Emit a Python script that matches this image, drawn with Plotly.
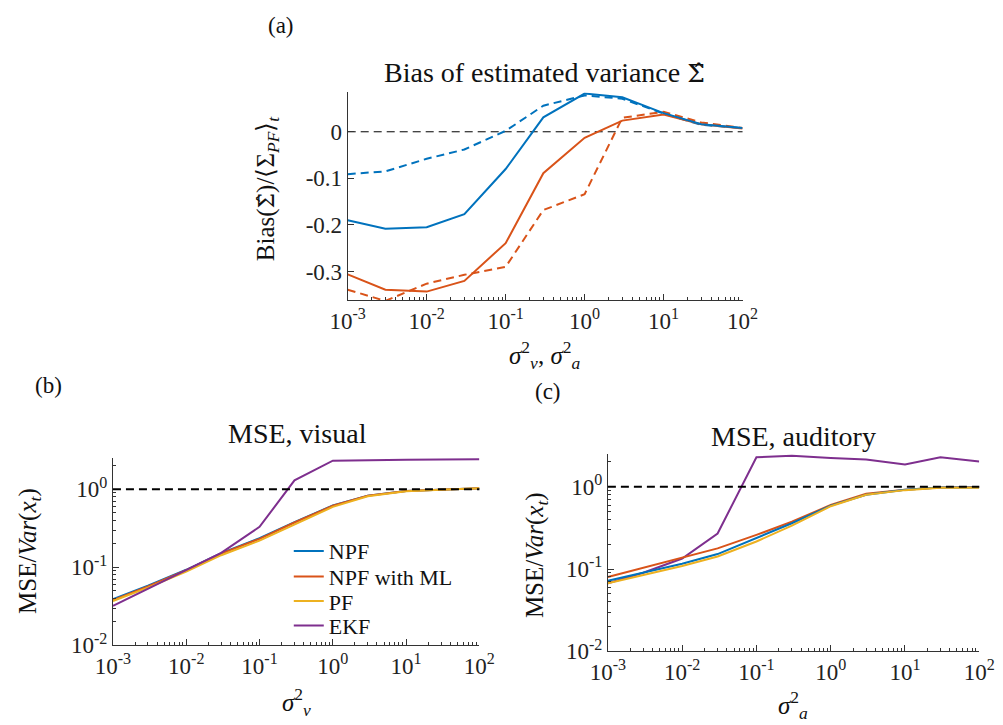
import plotly.graph_objects as go

# ---------------- data ----------------
sigma = [1e-3, 3e-3, 1e-2, 3e-2, 1e-1, 3e-1, 1e0, 3e0, 1e1, 3e1, 1e2]

# (a) bias of estimated variance
bias_vis_solid = [-0.190, -0.208, -0.205, -0.177, -0.080, 0.031, 0.082, 0.074, 0.040, 0.016, 0.008]
bias_vis_dash = [-0.091, -0.085, -0.058, -0.038, 0.002, 0.056, 0.078, 0.071, 0.039, 0.015, 0.008]
bias_aud_solid = [-0.306, -0.339, -0.343, -0.320, -0.239, -0.089, -0.013, 0.024, 0.037, 0.016, 0.007]
bias_aud_dash = [-0.339, -0.363, -0.326, -0.307, -0.290, -0.168, -0.134, 0.030, 0.043, 0.020, 0.008]

# (b) MSE visual
vis_npf = [0.039, 0.058, 0.093, 0.152, 0.236, 0.380, 0.620, 0.830, 0.950, 0.990, 1.030]
vis_npfml = [0.038, 0.057, 0.092, 0.150, 0.232, 0.375, 0.615, 0.825, 0.950, 0.990, 1.030]
vis_pf = [0.037, 0.055, 0.088, 0.143, 0.220, 0.355, 0.595, 0.815, 0.945, 0.990, 1.030]
vis_ekf = [0.032, 0.053, 0.092, 0.153, 0.330, 1.300, 2.330, 2.380, 2.390, 2.400, 2.420]

# (c) MSE auditory
aud_npf = [0.072, 0.090, 0.116, 0.152, 0.240, 0.360, 0.590, 0.800, 0.920, 0.980, 0.980]
aud_npfml = [0.080, 0.104, 0.137, 0.178, 0.260, 0.375, 0.600, 0.820, 0.920, 0.980, 0.990]
aud_pf = [0.067, 0.085, 0.109, 0.142, 0.216, 0.336, 0.580, 0.800, 0.910, 0.970, 0.970]
aud_ekf = [0.067, 0.090, 0.134, 0.270, 2.280, 2.390, 2.240, 2.140, 1.870, 2.280, 2.030]

x_tickvals = [1e-3, 1e-2, 1e-1, 1e0, 1e1, 1e2]
x_ticktext = ["10<sup>-3</sup>", "10<sup>-2</sup>", "10<sup>-1</sup>", "10<sup>0</sup>", "10<sup>1</sup>", "10<sup>2</sup>"]
y_log_tickvals = [1e-2, 1e-1, 1e0]
y_log_ticktext = ["10<sup>-2</sup>", "10<sup>-1</sup>", "10<sup>0</sup>"]
y_lin_tickvals = [-0.3, -0.2, -0.1, 0]
y_lin_ticktext = ["-0.3", "-0.2", "-0.1", "0"]

legend_names = ["NPF", "NPF with ML", "PF", "EKF"]

# ---------------- style ----------------
BLUE = "#0072BD"
ORANGE = "#D95319"
YELLOW = "#EDB120"
PURPLE = "#7E2F8E"
FONT = "Liberation Serif"
AX = "#333333"
LW = 2
TXT = "#111111"

minor_x = [m * 10.0 ** e for e in range(-3, 2) for m in range(2, 10)]
minor_y = [m * 10.0 ** e for e in range(-2, 1) for m in range(2, 10) if m * 10.0 ** e < 2.6]

fig = go.Figure()

def add(x, y, color, xa, ya, dash="solid", name=None, legend=None):
    kw = {}
    if legend is not None:
        kw["legend"] = legend
    fig.add_trace(go.Scatter(
        x=x, y=y, mode="lines", xaxis=xa, yaxis=ya,
        line=dict(color=color, width=LW, dash=dash),
        name=name, showlegend=legend is not None, hoverinfo="skip", **kw))

DASH = "8px,5px"
# (a)
add(sigma, bias_aud_dash, ORANGE, "x", "y", DASH)
add(sigma, bias_vis_dash, BLUE, "x", "y", DASH)
add(sigma, bias_aud_solid, ORANGE, "x", "y")
add(sigma, bias_vis_solid, BLUE, "x", "y")

# (b)
add(sigma, vis_npf, BLUE, "x2", "y2", name=legend_names[0], legend="legend")
add(sigma, vis_npfml, ORANGE, "x2", "y2", name=legend_names[1], legend="legend2")
add(sigma, vis_pf, YELLOW, "x2", "y2", name=legend_names[2], legend="legend3")
add(sigma, vis_ekf, PURPLE, "x2", "y2", name=legend_names[3], legend="legend4")

# (c)
add(sigma, aud_ekf, PURPLE, "x3", "y3")
add(sigma, aud_npfml, ORANGE, "x3", "y3")
add(sigma, aud_npf, BLUE, "x3", "y3")
add(sigma, aud_pf, YELLOW, "x3", "y3")

# reference lines
fig.add_shape(type="line", xref="x domain", yref="y", x0=0, x1=1, y0=0, y1=0,
              line=dict(color="black", width=1, dash="8px,5px"), layer="below")
fig.add_shape(type="line", xref="x2 domain", yref="y2", x0=0, x1=1, y0=1, y1=1,
              line=dict(color="black", width=2, dash="8px,5px"), layer="above")
fig.add_shape(type="line", xref="x3 domain", yref="y3", x0=0, x1=1, y0=1, y1=1,
              line=dict(color="black", width=2, dash="8px,5px"), layer="above")

W, H = 1003, 725
def dx(px):
    return px / W
def dy(py):
    return 1 - py / H

tickfont = dict(family=FONT, size=23, color="#222222")

def xaxis(dom, anchor):
    return dict(type="log", domain=dom, anchor=anchor, range=[-3, 2],
                tickvals=x_tickvals, ticktext=x_ticktext, ticks="inside", ticklen=6,
                tickcolor=AX, showline=True, linecolor=AX, linewidth=1,
                showgrid=False, zeroline=False, tickfont=tickfont,
                minor=dict(tickvals=minor_x, ticks="inside", ticklen=3, tickcolor=AX, showgrid=False))

def ylog(dom, anchor):
    return dict(type="log", domain=dom, anchor=anchor, range=[-2, 0.4],
                tickvals=y_log_tickvals, ticktext=y_log_ticktext, ticks="inside", ticklen=6,
                tickcolor=AX, showline=True, linecolor=AX, linewidth=1,
                showgrid=False, zeroline=False, tickfont=tickfont,
                minor=dict(tickvals=minor_y, ticks="inside", ticklen=3, tickcolor=AX, showgrid=False))

def leg(ypx):
    return dict(x=dx(272), y=dy(ypx), xanchor="left", yanchor="middle",
                bgcolor="rgba(0,0,0,0)", borderwidth=0,
                font=dict(family=FONT, size=22, color=TXT), itemwidth=30)

fig.update_layout(
    width=W, height=H, margin=dict(l=0, r=0, t=0, b=0),
    paper_bgcolor="white", plot_bgcolor="white",
    font=dict(family=FONT, size=22, color=TXT),
    xaxis=xaxis([dx(333), dx(741.7)], "y"),
    yaxis=dict(domain=[dy(297.3), dy(86)], anchor="x", range=[-0.361, 0.0844],
               tickvals=y_lin_tickvals, ticktext=y_lin_ticktext, ticks="inside", ticklen=6,
               tickcolor=AX, showline=True, linecolor=AX, linewidth=1,
               showgrid=False, zeroline=False, tickfont=tickfont),
    xaxis2=xaxis([dx(90), dx(469.3)], "y2"),
    yaxis2=ylog([dy(649), dy(458.3)], "x2"),
    xaxis3=xaxis([dx(602.3), dx(986.7)], "y3"),
    yaxis3=ylog([dy(655), dy(454)], "x3"),
    legend=leg(553),
    legend2=leg(579),
    legend3=leg(604),
    legend4=leg(629),
)

def ann(text, x, y, size=22, angle=0):
    fig.add_annotation(text=text, x=dx(x), y=dy(y), xref="paper", yref="paper",
                       showarrow=False, textangle=angle, xanchor="center", yanchor="middle",
                       font=dict(family=FONT, size=size, color=TXT))

def hat(px):
    return "<span style='font-family:DejaVu Serif;font-size:%dpx'>Σ\u0302</span>" % px

# panel labels
ann("(a)", 264, 18, size=23)
ann("(b)", 23, 384, size=23)
ann("(c)", 540, 390, size=23)
# titles
ann("Bias of estimated variance " + hat(25), 537, 66, size=28)
ann("MSE, visual", 281, 433, size=28)
ann("MSE, auditory", 794, 436, size=28)
# axis titles
ann("<i>σ</i><sup>2</sup><sub><i>v</i></sub>, <i>σ</i><sup>2</sup><sub><i>a</i></sub>", 537, 353, size=25)
ann("<i>σ</i><sup>2</sup><sub><i>v</i></sub>", 280, 707, size=25)
ann("<i>σ</i><sup>2</sup><sub><i>a</i></sub>", 794, 710, size=25)
ann("Bias(" + hat(22) + ")/⟨Σ<sub><i>PF</i></sub>⟩<sub><i>t</i></sub>", 250, 184, size=25, angle=-90)
ann("MSE/<i>Var</i>(<i>x<sub>t</sub></i>)", 3, 553, size=25, angle=-90)
ann("MSE/<i>Var</i>(<i>x<sub>t</sub></i>)", 528, 557, size=25, angle=-90)

fig.write_html("out.html")
